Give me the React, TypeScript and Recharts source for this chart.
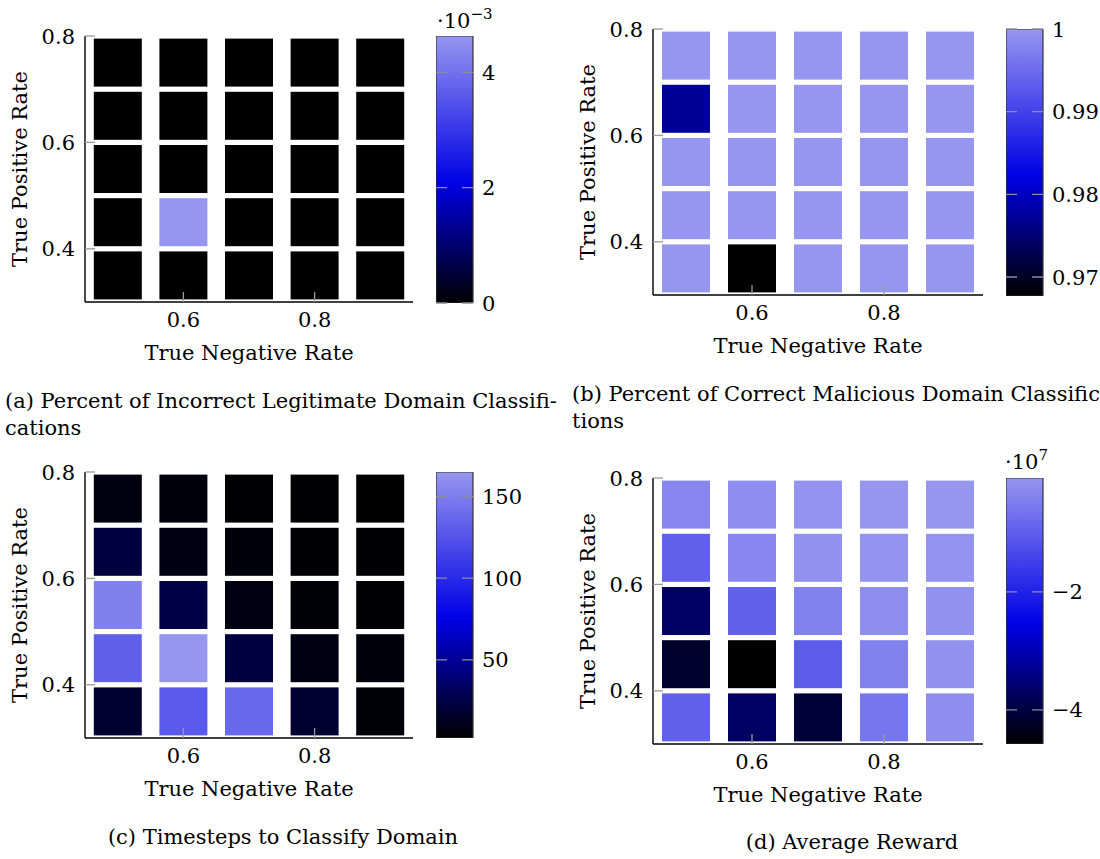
import React from 'react';
import { ScatterChart, Scatter, XAxis, YAxis, Label, BarChart, Bar, ReferenceLine } from 'recharts';

// ---------- data ----------
const trueNegativeRate = [0.5, 0.6, 0.7, 0.8, 0.9];
const truePositiveRate = [0.35, 0.45, 0.55, 0.65, 0.75];
const xTicks = [0.6, 0.8];
const yTicks = [0.4, 0.6, 0.8];

// rows follow truePositiveRate (0.35 -> 0.75), columns follow trueNegativeRate (0.5 -> 0.9)
const incorrectLegitimate = [
  [0, 0, 0, 0, 0],
  [0, 0.00463, 0, 0, 0],
  [0, 0, 0, 0, 0],
  [0, 0, 0, 0, 0],
  [0, 0, 0, 0, 0],
];
const correctMalicious = [
  [1, 0.9677, 1, 1, 1],
  [1, 1, 1, 1, 1],
  [1, 1, 1, 1, 1],
  [0.9772, 1, 1, 1, 1],
  [1, 1, 1, 1, 1],
];
const timesteps = [
  [18, 129, 138, 18, 4.6],
  [132, 165, 22.7, 8.4, 5.2],
  [152, 24.3, 7.7, 4.6, 3.6],
  [22.7, 8.4, 5.2, 3.6, 3],
  [6.8, 5.8, 2.6, 2.8, 2.1],
];
const averageReward = [
  [-0.945e7, -3.7e7, -4.09e7, -0.6e7, -0.2e7],
  [-4.18e7, -4.58e7, -1.03e7, -0.4e7, -0.15e7],
  [-3.7e7, -0.945e7, -0.4e7, -0.2e7, -0.15e7],
  [-0.945e7, -0.32e7, -0.15e7, -0.12e7, -0.1e7],
  [-0.32e7, -0.2e7, -0.1e7, -0.07e7, -0.07e7],
];

const ticksA = [0, 0.002, 0.004];
const ticksB = [0.97, 0.98, 0.99, 1];
const ticksC = [50, 100, 150];
const ticksD = [-4e7, -2e7];

const captionA = ['(a) Percent of Incorrect Legitimate Domain Classifi-', 'cations'];
const captionB = ['(b) Percent of Correct Malicious Domain Classifica-', 'tions'];
const captionC = '(c) Timesteps to Classify Domain';
const captionD = '(d) Average Reward';

// ---------- style ----------
const FONT = "'DejaVu Serif', serif";
const FS = 21;
const TICK_GRAY = '#9a9a9a';
const TL = 10;
const CBW = 37;
const CELL = 48;

const cmapStops: [number, number[]][] = [
  [0, [0, 0, 0]],
  [0.45, [0, 0, 230]],
  [1, [150, 150, 240]],
];

function cmap(f: number) {
  const t = Math.max(0, Math.min(1, f));
  for (let i = 1; i < cmapStops.length; i++) {
    const [p1, c1] = cmapStops[i];
    const [p0, c0] = cmapStops[i - 1];
    if (t <= p1) {
      const u = (t - p0) / (p1 - p0);
      const c = c0.map((v, k) => Math.round(v + (c1[k] - v) * u));
      return `rgb(${c[0]},${c[1]},${c[2]})`;
    }
  }
  const c = cmapStops[cmapStops.length - 1][1];
  return `rgb(${c[0]},${c[1]},${c[2]})`;
}

type Box = { l: number; t: number; r: number; b: number };
type Layout = { plot: Box; cbar: Box; ylabX: number };

const layoutA: Layout = { plot: { l: 85, t: 36, r: 413, b: 302 }, cbar: { l: 436, r: 473, t: 36, b: 303 }, ylabX: 20 };
const layoutB: Layout = { plot: { l: 653, t: 29, r: 983, b: 295 }, cbar: { l: 1006, r: 1043, t: 29, b: 296 }, ylabX: 588 };
const layoutC: Layout = { plot: { l: 85, t: 472, r: 413, b: 738 }, cbar: { l: 436, r: 473, t: 472, b: 738 }, ylabX: 20 };
const layoutD: Layout = { plot: { l: 653, t: 478, r: 983, b: 744 }, cbar: { l: 1006, r: 1043, t: 478, b: 744 }, ylabX: 588 };

const textStyle = { fontFamily: FONT, fontSize: FS, fill: '#000' };

function BottomTick(p: any) {
  const { x, y, payload } = p;
  return (
    <g>
      <line x1={x} x2={x} y1={y} y2={y - TL} stroke={TICK_GRAY} strokeWidth={1.3} />
      <text x={x} y={y + 25} textAnchor="middle" {...textStyle}>{String(payload.value)}</text>
    </g>
  );
}
function TopTick(p: any) {
  const { x, y } = p;
  return <line x1={x} x2={x} y1={y} y2={y + TL} stroke={TICK_GRAY} strokeWidth={1.3} />;
}
function LeftTick(p: any) {
  const { x, y, payload } = p;
  return (
    <g>
      <line x1={x} x2={x + TL} y1={y} y2={y} stroke={TICK_GRAY} strokeWidth={1.3} />
      <text x={x - 10} y={y} dy="0.36em" textAnchor="end" {...textStyle}>{String(payload.value)}</text>
    </g>
  );
}
function RightTick(p: any) {
  const { x, y } = p;
  return <line x1={x} x2={x - TL} y1={y} y2={y} stroke={TICK_GRAY} strokeWidth={1.3} />;
}

function Panel({ layout, matrix, cbTicks, fmt, id }: { layout: Layout; matrix: number[][]; cbTicks: number[]; fmt: (v: number) => string; id: string }) {
  const cells = truePositiveRate.flatMap((y, r) => trueNegativeRate.map((x, c) => ({ x, y, v: matrix[r][c] })));
  const vals = cells.map((d) => d.v);
  const vmin = Math.min(...vals);
  const vmax = Math.max(...vals);
  const { plot, cbar, ylabX } = layout;
  const pw = plot.r - plot.l;
  const ph = plot.b - plot.t;
  const svgLeft = plot.l - 85;
  const cbh = cbar.b - cbar.t;
  const barData = [{ name: 'cb', range: [vmin, vmax] }];

  const CbTick = (p: any) => {
    const { x, y, payload } = p;
    return (
      <text x={x + 9} y={y} dy="0.36em" textAnchor="start" {...textStyle}>{fmt(payload.value)}</text>
    );
  };

  return (
    <>
      <div style={{ position: 'absolute', left: svgLeft, top: plot.t - 15 }}>
        <ScatterChart width={pw + 95} height={ph + 90} margin={{ top: 15, right: 10, bottom: 0, left: 0 }}>
          <XAxis xAxisId="b" type="number" dataKey="x" domain={[0.45, 0.95]} ticks={xTicks} allowDataOverflow
            height={75} tickSize={0} tickMargin={0} tickLine={false} interval={0}
            axisLine={{ stroke: '#000', strokeWidth: 1.4 }} tick={(p: any) => <BottomTick {...p} />}>
            <Label value="True Negative Rate" position="insideBottom" offset={17} {...textStyle} />
          </XAxis>
          <XAxis xAxisId="t" orientation="top" type="number" domain={[0.45, 0.95]} ticks={xTicks} allowDataOverflow
            height={0} tickSize={0} tickMargin={0} tickLine={false} interval={0}
            axisLine={{ stroke: '#000', strokeWidth: 1.4 }} tick={(p: any) => <TopTick {...p} />} />
          <YAxis yAxisId="l" type="number" dataKey="y" domain={[0.3, 0.8]} ticks={yTicks} allowDataOverflow
            width={85} tickSize={0} tickMargin={0} tickLine={false} interval={0}
            axisLine={{ stroke: '#000', strokeWidth: 1.4 }} tick={(p: any) => <LeftTick {...p} />}>
            <Label value="True Positive Rate" angle={-90} position="insideLeft" offset={ylabX - svgLeft}
              {...textStyle} style={{ textAnchor: 'middle' }} />
          </YAxis>
          <YAxis yAxisId="r" orientation="right" type="number" domain={[0.3, 0.8]} ticks={yTicks} allowDataOverflow
            width={0} tickSize={0} tickMargin={0} tickLine={false} interval={0}
            axisLine={{ stroke: '#000', strokeWidth: 1.4 }} tick={(p: any) => <RightTick {...p} />} />
          <Scatter xAxisId="b" yAxisId="l" data={cells} isAnimationActive={false}
            shape={(p: any) => (
              <rect x={p.cx - CELL / 2} y={p.cy - CELL / 2} width={CELL} height={CELL}
                fill={cmap((p.payload.v - vmin) / (vmax - vmin))} />
            )} />
        </ScatterChart>
      </div>
      <div style={{ position: 'absolute', left: cbar.l, top: cbar.t - 15 }}>
        <BarChart width={CBW + 80} height={cbh + 30} data={barData} barCategoryGap={0}
          margin={{ top: 15, right: 0, bottom: 15, left: 0 }}>
          <defs>
            <linearGradient id={id} x1="0" y1="1" x2="0" y2="0">
              {cmapStops.map(([p, c]) => (
                <stop key={p} offset={p} stopColor={`rgb(${c[0]},${c[1]},${c[2]})`} />
              ))}
            </linearGradient>
          </defs>
          <XAxis dataKey="name" type="category" hide height={0} />
          <YAxis orientation="right" type="number" domain={[vmin, vmax]} ticks={cbTicks} allowDataOverflow
            width={80} tickSize={0} tickMargin={0} tickLine={false} axisLine={false} interval={0}
            tick={(p: any) => <CbTick {...p} />} />
          <Bar dataKey="range" fill={`url(#${id})`} stroke="#333" strokeWidth={1.2} isAnimationActive={false} />
          {cbTicks.map((t) => (
            <ReferenceLine key={t} y={t} stroke="#8c8c9c" strokeWidth={1.3} strokeDasharray={`11 ${CBW - 22}`} ifOverflow="visible" />
          ))}
        </BarChart>
      </div>
    </>
  );
}

const minus = (s: string) => s.replace('-', '\u2212');

export default function App() {
  return (
    <div style={{ position: 'absolute', left: 0, top: 0, width: 1100, height: 859, overflow: 'hidden', background: '#fff' }}>
      <Panel layout={layoutA} matrix={incorrectLegitimate} cbTicks={ticksA} fmt={(v) => String(Math.round(v / 1e-3))} id="gA" />
      <Panel layout={layoutB} matrix={correctMalicious} cbTicks={ticksB} fmt={(v) => String(v)} id="gB" />
      <Panel layout={layoutC} matrix={timesteps} cbTicks={ticksC} fmt={(v) => String(v)} id="gC" />
      <Panel layout={layoutD} matrix={averageReward} cbTicks={ticksD} fmt={(v) => minus(String(Math.round(v / 1e7)))} id="gD" />
      <svg width={1100} height={859} style={{ position: 'absolute', left: 0, top: 0, pointerEvents: 'none' }}>
        <text x={437} y={28} {...textStyle}>·10<tspan dy={-9} fontSize={15}>−3</tspan></text>
        <text x={1005} y={469} {...textStyle}>·10<tspan dy={-9} fontSize={15}>7</tspan></text>
        <text x={5} y={408} {...textStyle}>{captionA[0]}</text>
        <text x={5} y={435} {...textStyle}>{captionA[1]}</text>
        <text x={572} y={401} {...textStyle}>{captionB[0]}</text>
        <text x={572} y={428} {...textStyle}>{captionB[1]}</text>
        <text x={283} y={844} textAnchor="middle" {...textStyle}>{captionC}</text>
        <text x={852} y={849} textAnchor="middle" {...textStyle}>{captionD}</text>
      </svg>
    </div>
  );
}
